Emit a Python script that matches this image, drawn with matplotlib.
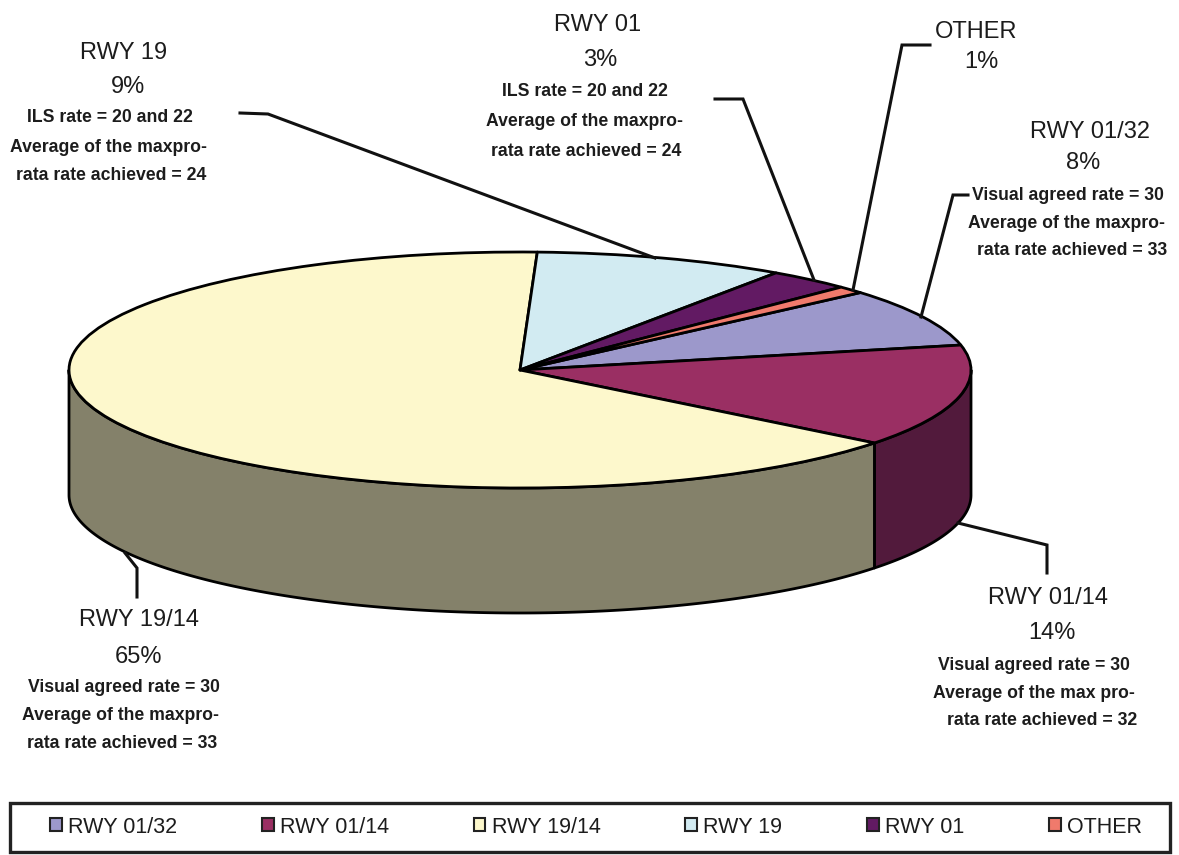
import matplotlib
matplotlib.use("Agg")
import matplotlib.pyplot as plt
from matplotlib import font_manager
from matplotlib.patches import Polygon, Patch, Rectangle
from matplotlib.transforms import Affine2D
import numpy as np

# ---- data -------------------------------------------------------------
categories = ["RWY 01/32", "RWY 01/14", "RWY 19/14", "RWY 19", "RWY 01", "OTHER"]
shares = [8, 14, 65, 9, 3, 1]
details = [
    ["Visual agreed rate = 30", "Average of the maxpro-", "rata rate achieved = 33"],
    ["Visual agreed rate = 30", "Average of the max pro-", "rata rate achieved = 32"],
    ["Visual agreed rate = 30", "Average of the maxpro-", "rata rate achieved = 33"],
    ["ILS rate = 20 and 22", "Average of the maxpro-", "rata rate achieved = 24"],
    ["ILS rate = 20 and 22", "Average of the maxpro-", "rata rate achieved = 24"],
    [],
]

# ---- styling ------------------------------------------------------------
top_colors = ["#9c98cb", "#9a2f63", "#fdf8cc", "#d2ebf2", "#621a63", "#f07a6c"]
side_colors = ["#5f5c80", "#521a3c", "#84816a", "#7d8c91", "#3a0f3a", "#8f4940"]


def has_font(name):
    try:
        font_manager.findfont(name, fallback_to_default=False)
        return True
    except ValueError:
        return False


TITLE_FONT = dict(family=["Liberation Sans", "DejaVu Sans"], fontsize=17, color="#1c1c1c")
if has_font("Liberation Sans Narrow"):
    DETAIL_FONT = dict(family=["Liberation Sans Narrow", "DejaVu Sans"], fontsize=15,
                       fontweight="bold", color="#1c1c1c")
else:
    DETAIL_FONT = dict(family=["Liberation Sans", "DejaVu Sans"], fontsize=12.7,
                       fontweight="bold", color="#1c1c1c")

W, H = 1179, 855
fig = plt.figure(figsize=(W / 100, H / 100), dpi=100)
ax = fig.add_axes([0, 0, 1, 1])

# pie geometry in pixel space (y grows downward)
cx, cy, rx, ry, depth = 520, 370, 451, 118, 125
pie_tr = Affine2D().scale(rx, -ry).translate(cx, cy) + ax.transData
d = depth / ry

wedges, _ = ax.pie(shares, colors=top_colors, startangle=41, counterclock=False,
                   wedgeprops=dict(edgecolor="black", linewidth=2, joinstyle="round"))
for w in wedges:
    w.set_transform(pie_tr)
    w.set_zorder(3)

ax.set_aspect("auto")
ax.set_xlim(0, W)
ax.set_ylim(H, 0)
ax.axis("off")

# side walls: only the front half of the rim is visible
for w, sc in zip(wedges, side_colors):
    t1, t2 = w.theta1, w.theta2
    for k in range(-2, 2):
        a = max(t1, -180 + 360 * k)
        b = min(t2, 360 * k)
        if b > a:
            t = np.radians(np.linspace(a, b, 200))
            xs, ys = np.cos(t), np.sin(t)
            poly = np.column_stack([np.r_[xs, xs[::-1]], np.r_[ys, ys[::-1] - d]])
            ax.add_patch(Polygon(poly, closed=True, facecolor=sc, edgecolor="black",
                                 linewidth=2, joinstyle="round", transform=pie_tr, zorder=2))

# ---- labels with leader lines -------------------------------------------
label_layout = {
    "RWY 01/32": dict(title=(1090, 132), pct=(1083, 163), det=[(1068, 195), (1067, 223), (1072, 250)],
                      leader=[(968, 195), (953, 195), (921, 317)]),
    "RWY 01/14": dict(title=(1048, 598), pct=(1052, 633), det=[(1034, 665), (1034, 693), (1042, 720)],
                      leader=[(958, 523), (1047, 545), (1047, 573)]),
    "RWY 19/14": dict(title=(139, 620), pct=(138, 657), det=[(124, 687), (120, 715), (122, 743)],
                      leader=[(125, 553), (137, 568), (137, 597)]),
    "RWY 19": dict(title=(124, 53), pct=(128, 87), det=[(110, 118), (108, 147), (111, 175)],
                   leader=[(240, 113), (268, 114), (655, 258)]),
    "RWY 01": dict(title=(598, 25), pct=(600, 60), det=[(585, 92), (585, 122), (586, 152)],
                   leader=[(715, 99), (743, 99), (814, 280)]),
    "OTHER": dict(title=(976, 32), pct=(981, 62), det=[],
                  leader=[(930, 45), (902, 45), (853, 290)]),
}

for name, share, lines in zip(categories, shares, details):
    lay = label_layout[name]
    ax.text(*lay["title"], name, ha="center", va="center", **TITLE_FONT)
    ax.text(*lay["pct"], f"{share}%", ha="center", va="center", **TITLE_FONT)
    for (x, y), line in zip(lay["det"], lines):
        ax.text(x, y, line, ha="center", va="center", **DETAIL_FONT)
    lx, ly = zip(*lay["leader"])
    ax.plot(lx, ly, color="#111111", linewidth=2.2, solid_joinstyle="miter", zorder=4)

# ---- legend -------------------------------------------------------------
ax.add_patch(Rectangle((10, 803), 1160, 49, facecolor="white", edgecolor="#222222",
                       linewidth=2.4, zorder=1))
handles = [Patch(facecolor=c, edgecolor="#222222", linewidth=1.5) for c in top_colors]
leg = fig.legend(handles, categories, loc="center", ncol=6, mode="expand",
                 bbox_to_anchor=(50 / W, 1 - 847 / H, 1092 / W, 40 / H),
                 prop=dict(family=["Liberation Sans", "DejaVu Sans"], size=15.5),
                 handlelength=0.55, handleheight=0.55, handletextpad=0.3,
                 borderaxespad=0, borderpad=0, frameon=False)
for t in leg.get_texts():
    t.set_color("#1c1c1c")

fig.savefig("out.png", dpi=100, facecolor="white")
